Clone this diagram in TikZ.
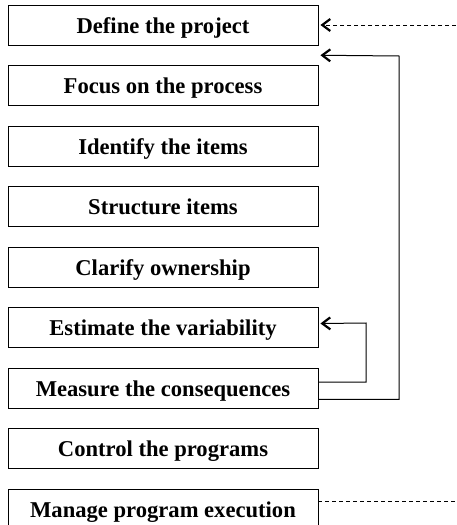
\documentclass[tikz,border=0pt]{standalone}
\usepackage{fontspec}
\setmainfont{Liberation Serif}
\usetikzlibrary{arrows.meta, positioning, calc}

\begin{document}
\begin{tikzpicture}[
        x=1pt, y=-1pt,
        stage/.style={rectangle, draw, line width=0.9pt, minimum width=310pt, minimum height=40pt,
            inner sep=0pt, text height=16pt, text depth=0pt, align=center,
            font=\fontsize{22.6}{27}\selectfont\bfseries},
        tip/.style={-{Straight Barb[length=8pt, width=12pt, line width=2.2pt]}},
        loop/.style={tip, line width=1pt},
        hint/.style={dash pattern=on 4pt off 3pt, line width=0.9pt}
    ]
        \useasboundingbox (0,0) rectangle (456,525);

        \node[stage] (define) at (163,25) {Define the project};
        \node[stage] (focus) at (163,85.5) {Focus on the process};
        \node[stage] (identify) at (163,146) {Identify the items};
        \node[stage] (structure) at (163,206.5) {Structure items};
        \node[stage] (clarify) at (163,267) {Clarify ownership};
        \node[stage] (estimate) at (163,327.5) {Estimate the variability};
        \node[stage] (measure) at (163,388) {Measure the consequences};
        \node[stage] (control) at (163,448.5) {Control the programs};
        \node[stage] (manage) at (163,509) {Manage program execution};

        \coordinate (infeed) at (456,25);
        \coordinate (outfeed) at (456,501);
        \coordinate (gap) at ($(define.south east)!0.5!(focus.north east)+(2,0)$);

        % feedback loops
        \draw[loop] ([yshift=6pt]measure.east) -| (366,323) -- ([yshift=4pt, xshift=2pt]estimate.east);
        \draw[loop] ([yshift=9pt]measure.south east) -| (399,56) -- (gap);

        % links to the outside
        \draw[hint, tip] (infeed) -- ([xshift=2pt]define.east);
        \draw[hint] ([yshift=8pt]manage.east) -- (outfeed);
    \end{tikzpicture}
\end{document}
